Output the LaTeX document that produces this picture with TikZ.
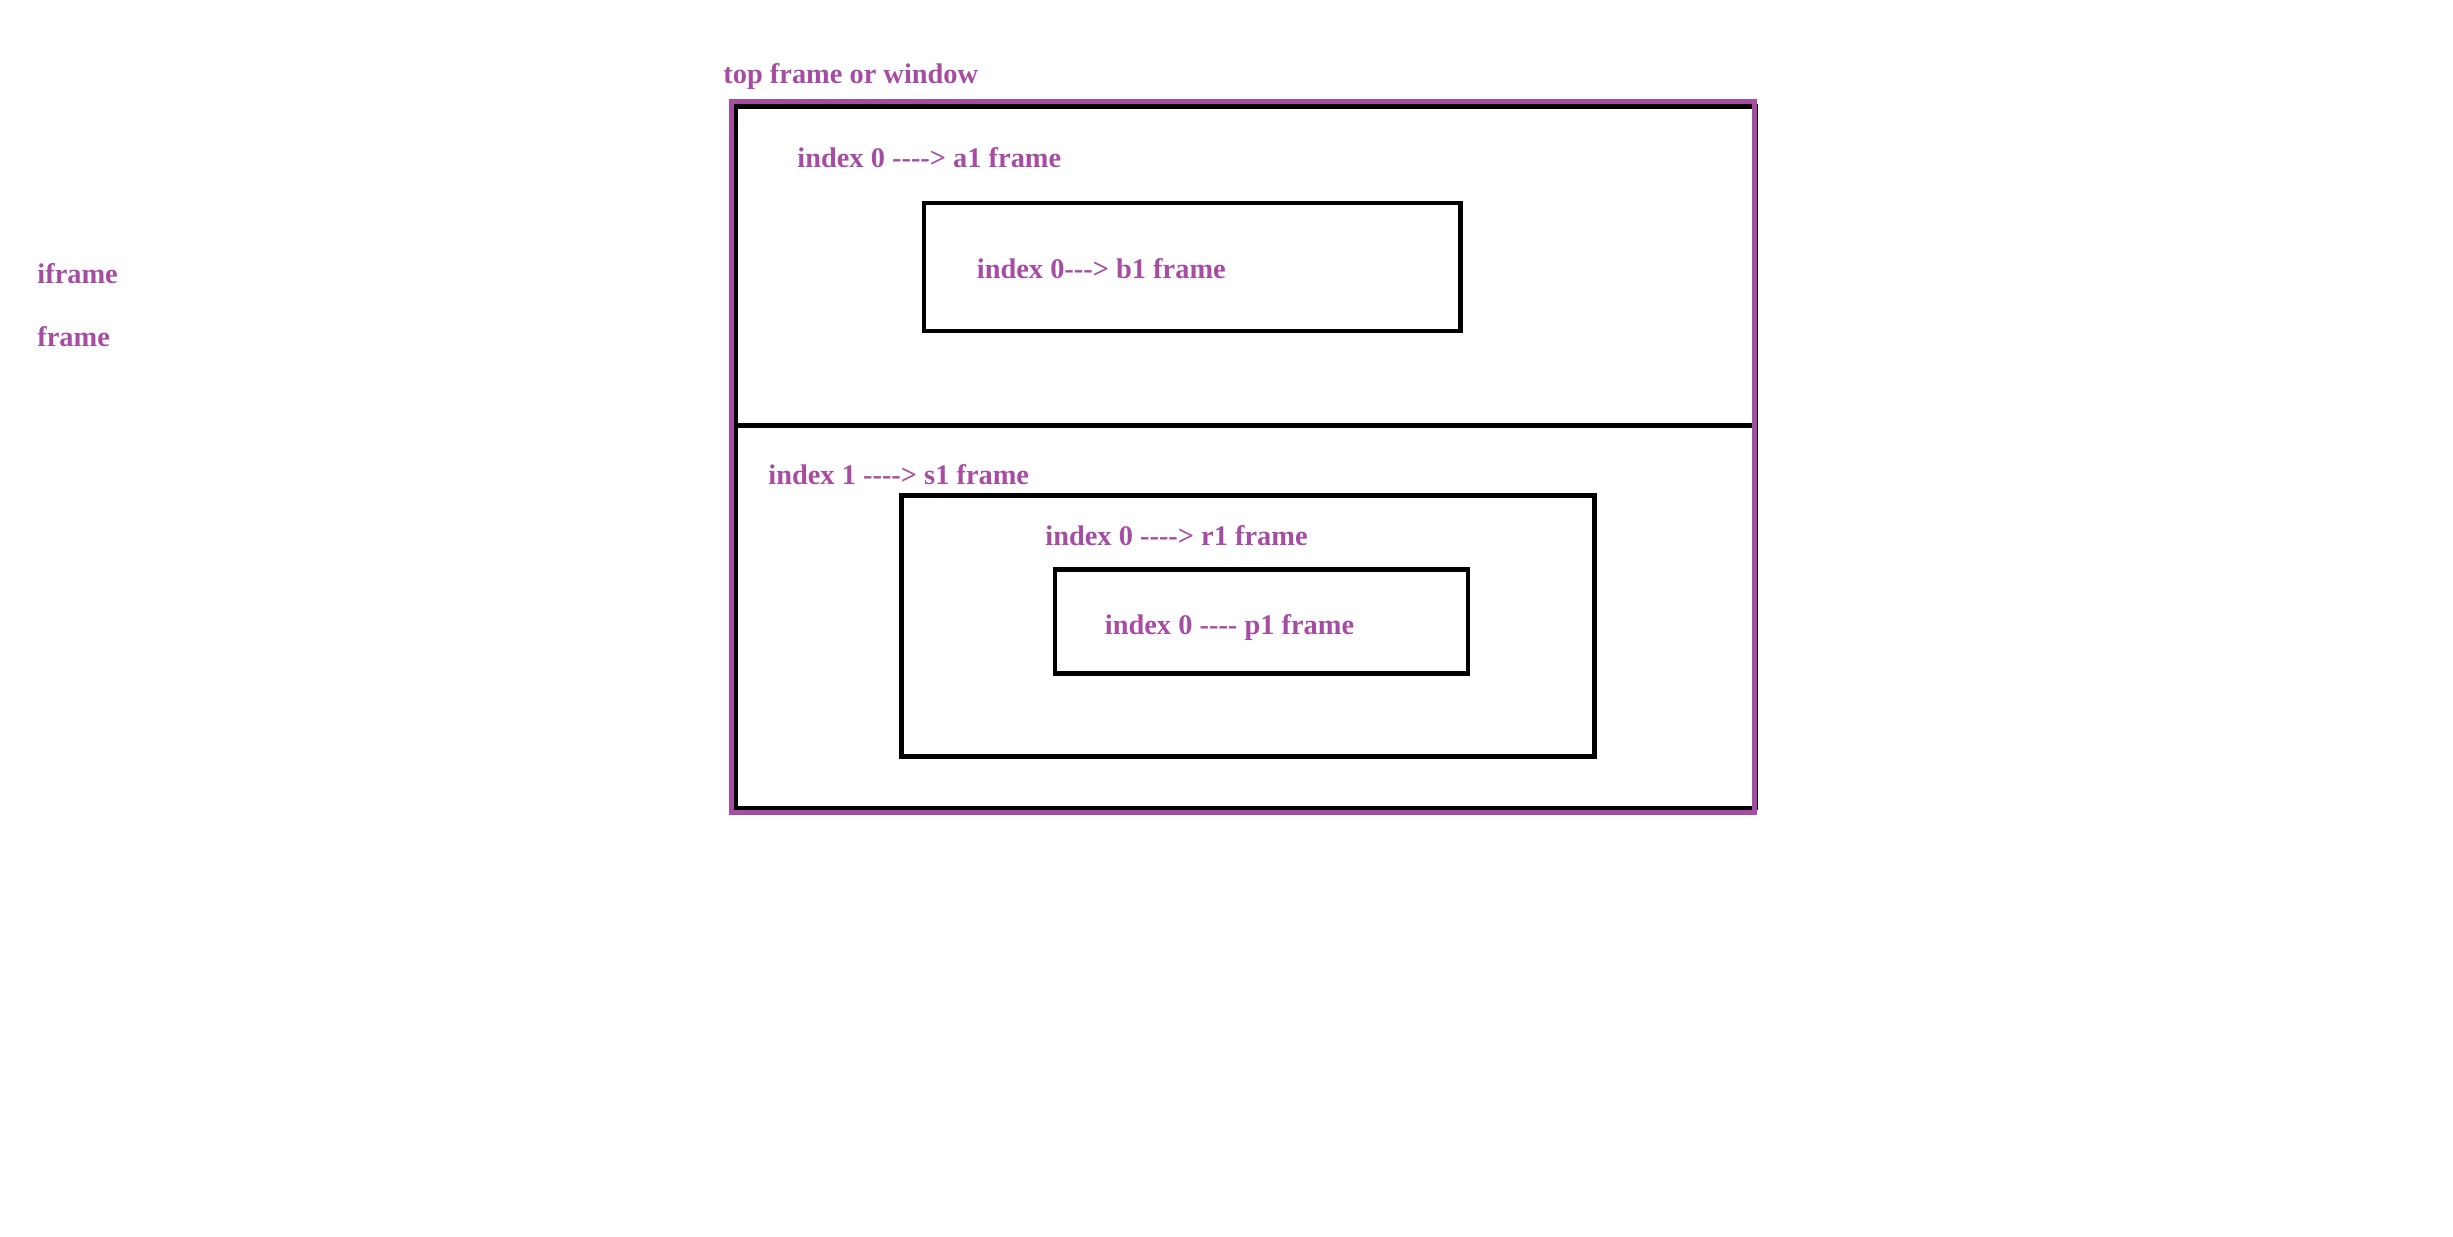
\documentclass[tikz,border=0pt]{standalone}
\usepackage{fontspec}
\setmainfont{Liberation Serif}[Ligatures=TeXOff]
\definecolor{framepurple}{RGB}{166,77,163}
\begin{document}
\begin{tikzpicture}[x=0.5pt,y=-0.5pt,
  lbl/.style={anchor=base west, inner sep=0, text=framepurple,
              font=\fontsize{14.2}{16}\selectfont\bfseries},
  box/.style={draw=black, line width=2.25pt},
  border/.style={draw=framepurple, line width=2.5pt}]
\useasboundingbox (0,0) rectangle (2453,1237);

% legend on the left
\node[lbl] (iframe) at (37,283) {iframe};
\node[lbl] (frame)  at (37,346) {frame};

% top-level window
\node[lbl] (top) at (723,83) {top frame or window};
\coordinate (winNW) at (736,106.5);
\coordinate (winSE) at (1756,808);
\draw[box] (winNW) rectangle (winSE);
\coordinate (divW) at (736,425.5);
\coordinate (divE) at (1756,425.5);
\draw[box] (divW) -- (divE);

% upper half: a1 frame with b1 inside
\node[lbl] (a1) at (797,167) {index 0 ----> a1 frame};
\coordinate (b1NW) at (924,203);
\coordinate (b1SE) at (1460.5,331);
\draw[box] (b1NW) rectangle (b1SE);
\node[lbl] (b1) at (976.5,278) {index 0---> b1 frame};

% lower half: s1 frame with r1 and p1 nested
\node[lbl] (s1) at (768,484) {index 1 ----> s1 frame};
\coordinate (r1NW) at (901.5,495.5);
\coordinate (r1SE) at (1594.5,756.5);
\draw[box] (r1NW) rectangle (r1SE);
\node[lbl] (r1) at (1045,545) {index 0 ----> r1 frame};
\coordinate (p1NW) at (1055,569.5);
\coordinate (p1SE) at (1468,673.5);
\draw[box] (p1NW) rectangle (p1SE);
\node[lbl] (p1) at (1104.5,634) {index 0 ---- p1 frame};

% purple outline of the top window, drawn last
\coordinate (outNW) at (731.5,101.5);
\coordinate (outSE) at (1754.5,812.5);
\draw[border] (outNW) rectangle (outSE);
\end{tikzpicture}
\end{document}
